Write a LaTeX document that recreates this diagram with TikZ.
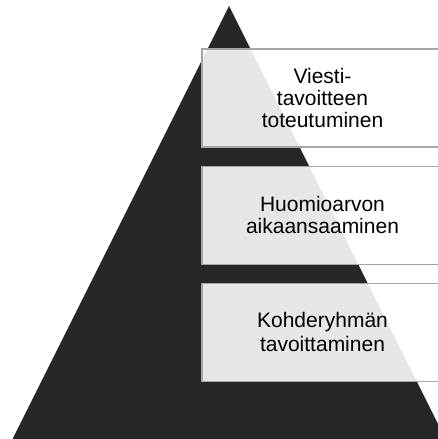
\documentclass[tikz,border=0pt]{standalone}
\usepackage{fontspec}
\setmainfont{Liberation Sans}
\usepackage{tikz}
\usetikzlibrary{positioning}

\begin{document}
\begin{tikzpicture}[
    x=1pt, y=1pt,
    pyramid/.style={fill={rgb,255:red,38;green,38;blue,38}},
    tier/.style={draw={rgb,255:red,166;green,166;blue,166}, line width=1.2pt,
        fill=white, fill opacity=0.89, text opacity=1,
        minimum width=241pt, minimum height=98pt, inner sep=0pt,
        align=center, font=\fontsize{21}{22}\selectfont}
    ]

    % frame
    \useasboundingbox (0,0) rectangle (438,439);
    \clip (0,0) rectangle (438,439);
    % pyramid
    \coordinate (top) at (229,433);
    \coordinate (L) at (12.5,0);
    \coordinate (R) at (445.5,0);
    \fill[pyramid] (L) -- (top) -- (R) -- cycle;
    % tiers
    \node[tier] (msg) at (322.5,341) {Viesti-\\tavoitteen\\toteutuminen};
    \node[tier, below=18pt of msg] (attn) {Huomioarvon\\aikaansaaminen};
    \node[tier, below=18pt of attn, font=\fontsize{21}{24}\selectfont] (reach) {Kohderyhmän\\tavoittaminen};
\end{tikzpicture}
\end{document}
